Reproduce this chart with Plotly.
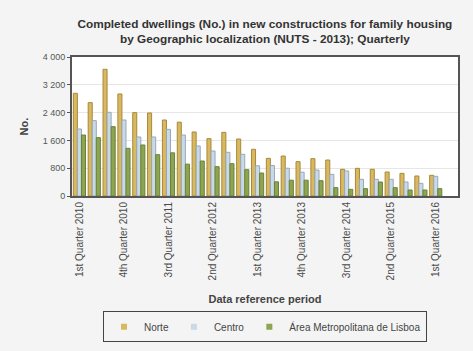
import plotly.graph_objects as go

quarters = []
for y in range(2010, 2017):
    for q in ["1st", "2nd", "3rd", "4th"]:
        quarters.append(f"{q} Quarter {y}")
quarters = quarters[:25]

norte = [2955, 2686, 3646, 2936, 2398, 2389, 2187, 2125, 1842, 1650, 1832, 1640, 1343,
         1084, 1151, 988, 1074, 1036, 768, 796, 768, 691, 652, 576, 595]
centro = [1928, 2168, 2408, 2187, 1698, 1698, 1918, 1755, 1439, 1295, 1257, 1200, 868,
          878, 800, 686, 748, 623, 720, 480, 480, 480, 403, 364, 566]
lisboa = [1755, 1679, 1995, 1372, 1468, 1189, 1242, 916, 1007, 844, 930, 757, 662,
          408, 455, 455, 441, 240, 192, 211, 403, 240, 173, 173, 211]

series_names = ["Norte", "Centro", "Área Metropolitana de Lisboa"]
tick_vals_y = [0, 800, 1600, 2400, 3200, 4000]
tick_text_y = ["0", "800", "1 600", "2 400", "3 200", "4 000"]
tick_cats = quarters[::3]

fills = ["#D9B862", "#C9D9E6", "#8DA450"]
lines = ["#A8893A", "#96A8B8", "#6A8236"]

fig = go.Figure()
for name, vals, fc, lc in zip(series_names, [norte, centro, lisboa], fills, lines):
    fig.add_trace(go.Bar(x=quarters, y=vals, name=name, showlegend=False,
                         marker=dict(color=fc, line=dict(color=lc, width=1))))
for name, fc in zip(series_names, fills):
    fig.add_trace(go.Scatter(x=[None], y=[None], mode="markers", name=name,
                             marker=dict(symbol="square", size=6, color=fc)))

font = "Liberation Sans, Arial, sans-serif"
fig.update_layout(
    width=473, height=351,
    margin=dict(l=72, r=15, t=57, b=155, autoexpand=False),
    paper_bgcolor="#F4F4F4", plot_bgcolor="#FFFFFF",
    barmode="group", bargap=0.18, bargroupgap=0.0,
    font=dict(family=font, color="#444", size=10),
    title=dict(text="<b>Completed dwellings (No.) in new constructions for family housing<br>by Geographic localization (NUTS - 2013); Quarterly</b>",
               x=0.56, xanchor="center", y=0.92, yanchor="top",
               font=dict(size=11.8, color="#333", family=font)),
    showlegend=True,
    legend=dict(orientation="h", x=0.5, xanchor="center", y=-0.83, yanchor="top",
                bordercolor="#444", borderwidth=1, bgcolor="#F4F4F4",
                font=dict(size=10, color="#444"), itemwidth=30, traceorder="normal",
                tracegroupgap=0),
    xaxis=dict(type="category", range=[-0.5, 25.5], tickmode="array", tickvals=tick_cats,
               ticktext=tick_cats, tickangle=-90, showline=True, mirror=True,
               linecolor="#555", linewidth=2, showgrid=False, ticks="",
               tickfont=dict(size=10, color="#4a4a4a"),
               title=dict(text="<b>Data reference period</b>", standoff=16,
                          font=dict(size=11, color="#444"))),
    yaxis=dict(range=[0, 4000], tickmode="array", tickvals=tick_vals_y, ticktext=tick_text_y,
               showline=True, mirror=True, linecolor="#555", linewidth=2,
               gridcolor="#E6E6E6", zeroline=False, ticks="outside", ticklen=3,
               tickcolor="#555", tickfont=dict(size=9, color="#555"),
               title=dict(text="<b>No.</b>", standoff=12, font=dict(size=11, color="#444"))),
)

fig.write_html("out.html")
